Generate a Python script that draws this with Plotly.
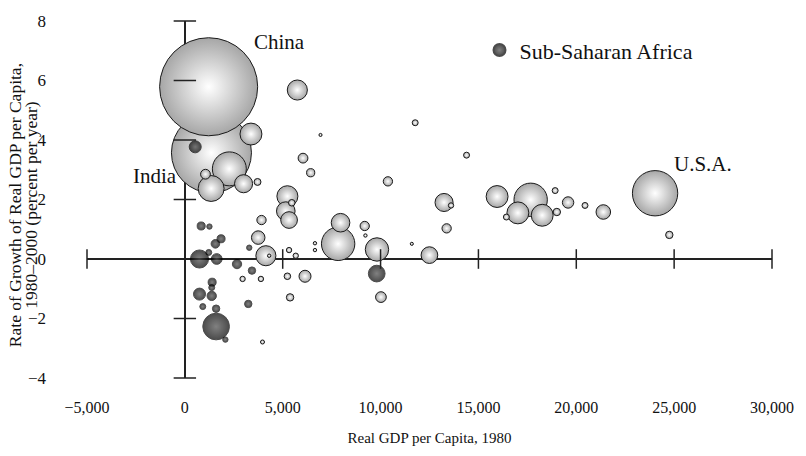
import numpy as np
import plotly.graph_objects as go

# ---- data: real GDP per capita 1980 (x), growth 1980-2000 (y), population (millions, bubble area)
other_x = [1358, 1215, 2273, 24026, 17669, 7832, 1343, 9816, 15954, 17016, 18259, 3377, 5747, 4140,
           5239, 5157, 7955, 3000, 13244, 5325, 12496, 21381, 3748, 6139, 19581, 10019, 1053, 6037,
           3916, 9190, 13376, 10375, 6429, 5376, 24753, 19006, 3713, 5462, 5239, 11769, 14393, 16428,
           18920, 20446, 13600, 5325, 5666, 2950, 3886, 3967, 4308, 6647, 6647, 9226, 6931, 11596]
other_y = [3.57, 5.79, 3.03, 2.21, 1.99, 0.51, 2.37, 0.32, 2.10, 1.55, 1.47, 4.20, 5.68, 0.11,
           2.11, 1.61, 1.22, 2.53, 1.90, 1.31, 0.13, 1.58, 0.72, -0.58, 1.90, -1.28, 2.85, 3.39,
           1.31, 1.11, 1.03, 2.61, 2.90, -1.29, 0.81, 1.58, 2.59, 1.89, -0.58, 4.58, 3.49, 1.41,
           2.30, 1.80, 1.80, 0.30, 0.11, -0.67, -0.67, -2.79, 0.11, 0.53, 0.30, 0.79, 4.17, 0.51]
other_pop = [666, 1000, 120, 214, 116, 116, 70, 57, 50, 50, 50, 50, 42, 42,
             46, 36, 36, 34, 34, 29, 29, 22, 19, 15, 13.5, 12, 10, 10,
             9, 9, 9, 9, 7, 5.7, 5.7, 5.7, 5, 4.5, 4.5, 3.7, 3.7, 3.7,
             3.7, 3.7, 3, 3, 3, 3, 3, 1.7, 1.2, 1.2, 1.2, 1.2, 1, 1]

ssa_x = [1597, 748, 529, 1628, 9803, 748, 2665, 1373, 1561, 834, 1851, 1394, 3428, 1597, 3240,
         1221, 1373, 915, 1256, 2070, 3290]
ssa_y = [-2.27, 0.0, 3.77, 0.0, -0.49, -1.18, -0.17, -1.24, 0.51, 1.11, 0.68, -0.78, -0.39, -1.67,
         -1.51, 0.22, -0.96, -1.60, 1.09, -2.71, 0.38]
ssa_pop = [74, 34, 15, 12, 29, 15, 9, 9, 7.7, 6.7, 6.7, 6.7, 5.7, 5.7, 5.7,
           3.7, 3.7, 3.7, 3, 3, 3]

x_tick_vals = [-5000, 0, 5000, 10000, 15000, 20000, 25000, 30000]
y_tick_vals = [-4, -2, 0, 2, 4, 6, 8]
x_cross_ticks = [-5000, 5000, 10000, 15000, 20000, 25000, 30000]
y_cross_ticks = [-4, -2, 2, 4, 6, 8]

labels = ["China", "India", "U.S.A."]
label_x = [4816, -1541, 26480]
label_y = [7.31, 2.79, 3.21]

SERIF = "Liberation Serif"
K = 3.1  # px diameter per sqrt(million people)

fig = go.Figure()

fig.add_trace(go.Scatter(
    x=other_x, y=other_y, mode="markers", showlegend=False, hoverinfo="skip",
    marker=dict(size=[K * np.sqrt(p) for p in other_pop], sizemode="diameter",
                color="#a6a6a6", gradient=dict(type="radial", color="#ffffff"),
                line=dict(color="#1a1a1a", width=1), opacity=1),
    cliponaxis=False,
))
fig.add_trace(go.Scatter(
    x=ssa_x, y=ssa_y, mode="markers", name="Sub-Saharan Africa", showlegend=True,
    hoverinfo="skip",
    marker=dict(size=[K * np.sqrt(p) for p in ssa_pop], sizemode="diameter",
                color="#000000", gradient=dict(type="radial", color="#4c4c4c"),
                line=dict(color="#000000", width=1)),
    cliponaxis=False,
))
# crossing tick marks on the axis lines through the origin
fig.add_trace(go.Scatter(
    x=x_cross_ticks, y=[0] * len(x_cross_ticks), mode="markers", showlegend=False,
    hoverinfo="skip", cliponaxis=False,
    marker=dict(symbol="line-ns", size=14, line=dict(color="#222222", width=1.5)),
))
fig.add_trace(go.Scatter(
    x=[0] * len(y_cross_ticks), y=y_cross_ticks, mode="markers", showlegend=False,
    hoverinfo="skip", cliponaxis=False,
    marker=dict(symbol="line-ew", size=16, line=dict(color="#222222", width=1.5)),
))

annotations = [dict(x=lx, y=ly, text=t, showarrow=False, xref="x", yref="y",
                    font=dict(family=SERIF, size=21, color="#111111"))
               for t, lx, ly in zip(labels, label_x, label_y)]
annotations += [
    dict(x=-0.1047, y=0.485, xref="paper", yref="paper", text="Rate of Growth of Real GDP per Capita,",
         textangle=-90, showarrow=False, xanchor="center", yanchor="middle",
         font=dict(family=SERIF, size=17.5, color="#111111")),
    dict(x=-0.0818, y=0.485, xref="paper", yref="paper", text="1980–2000 (percent per year)",
         textangle=-90, showarrow=False, xanchor="center", yanchor="middle",
         font=dict(family=SERIF, size=17.5, color="#111111")),
]

fig.update_layout(
    width=806, height=456,
    margin=dict(l=87, r=31, t=15, b=75),
    paper_bgcolor="white", plot_bgcolor="white",
    font=dict(family=SERIF, size=16, color="#111111"),
    showlegend=True,
    legend=dict(x=0.573, y=0.918, xanchor="left", yanchor="middle", bgcolor="rgba(0,0,0,0)",
                font=dict(family=SERIF, size=22, color="#111111"), itemsizing="constant",
                itemwidth=30),
    annotations=annotations,
    xaxis=dict(range=[-5000, 30000], tickvals=x_tick_vals, tickformat=",d",
               showgrid=False, showline=False, ticks="", zeroline=True,
               zerolinecolor="#222222", zerolinewidth=1.5, ticklabelstandoff=18,
               ticklabeloverflow="allow",
               tickfont=dict(family=SERIF, size=16),
               title=dict(text="Real GDP per Capita, 1980", standoff=17,
                          font=dict(family=SERIF, size=15))),
    yaxis=dict(range=[-4, 8], tickvals=y_tick_vals, showgrid=False, showline=False,
               ticks="", zeroline=True, zerolinecolor="#222222", zerolinewidth=1.5,
               ticklabelstandoff=40, ticklabeloverflow="allow",
               tickfont=dict(family=SERIF, size=17)),
)

# remove the browser's default 8px body margin so the figure fills the window exactly
fig.write_html("out.html", config={"displayModeBar": False},
               post_script="document.body.style.margin='0';")
